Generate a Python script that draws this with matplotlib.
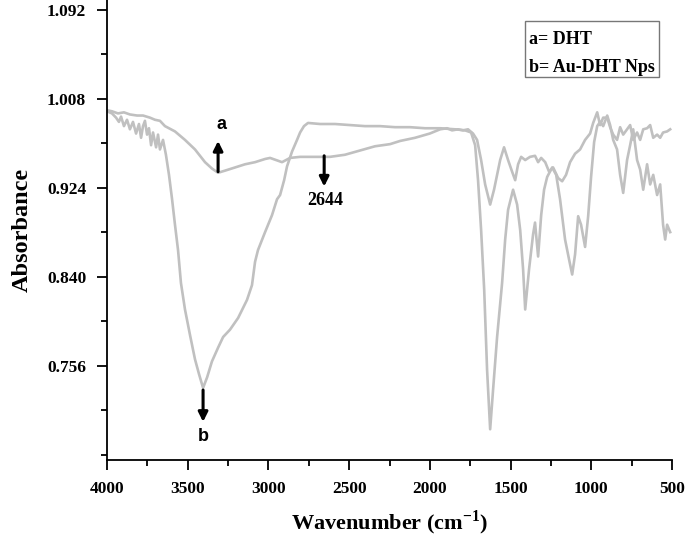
import matplotlib
matplotlib.use("Agg")
import matplotlib.pyplot as plt
from matplotlib.patches import Rectangle
from matplotlib.ticker import MultipleLocator, FixedLocator, FormatStrFormatter

plt.rcParams["mathtext.fontset"] = "custom"
plt.rcParams["mathtext.rm"] = "Liberation Serif:bold"
plt.rcParams["mathtext.bf"] = "Liberation Serif:bold"

# FTIR spectra (wavenumber cm-1, absorbance)
wn_a = [4000, 3969, 3932, 3895, 3858, 3814, 3777, 3734, 3703, 3672, 3641, 3579,
        3517, 3455, 3393, 3350, 3312, 3269, 3207, 3145, 3083, 3021, 2990, 2953,
        2916, 2866, 2804, 2711, 2619, 2526, 2433, 2340, 2247, 2185, 2092, 2001,
        1937, 1894, 1863, 1826, 1795, 1764, 1733, 1708, 1683, 1658, 1627, 1603,
        1565, 1541, 1516, 1491, 1472, 1454, 1435, 1410, 1380, 1349, 1330, 1311,
        1286, 1262, 1237, 1206, 1181, 1157, 1132, 1101, 1070, 1039, 1008, 989,
        964, 946, 927, 902, 884, 865, 841, 822, 803, 779, 760, 741, 717, 698,
        679, 655, 636, 617, 593, 574, 556, 531, 512]
abs_a = [0.997, 0.996, 0.994, 0.995, 0.993, 0.992, 0.992, 0.990, 0.988, 0.987,
         0.982, 0.977, 0.969, 0.960, 0.948, 0.942, 0.938, 0.940, 0.943, 0.946,
         0.948, 0.951, 0.952, 0.950, 0.948, 0.952, 0.953, 0.953, 0.953, 0.955,
         0.959, 0.963, 0.965, 0.968, 0.971, 0.975, 0.979, 0.980, 0.978, 0.979,
         0.978, 0.979, 0.975, 0.969, 0.950, 0.927, 0.908, 0.922, 0.950, 0.962,
         0.950, 0.939, 0.931, 0.946, 0.953, 0.950, 0.953, 0.954, 0.948, 0.952,
         0.948, 0.939, 0.943, 0.933, 0.930, 0.936, 0.948, 0.956, 0.960, 0.969,
         0.975, 0.985, 0.995, 0.983, 0.990, 0.990, 0.981, 0.974, 0.969, 0.981,
         0.974, 0.979, 0.983, 0.969, 0.976, 0.969, 0.979, 0.980, 0.983, 0.971,
         0.974, 0.971, 0.976, 0.977, 0.979]

wn_b = [4000, 3969, 3944, 3926, 3913, 3895, 3876, 3858, 3839, 3820, 3802, 3789,
        3777, 3765, 3752, 3740, 3727, 3715, 3696, 3684, 3672, 3653, 3635, 3616,
        3597, 3579, 3560, 3542, 3517, 3486, 3455, 3430, 3405, 3380, 3350, 3312,
        3281, 3238, 3188, 3133, 3102, 3083, 3065, 3021, 2978, 2947, 2928, 2903,
        2885, 2854, 2823, 2804, 2780, 2755, 2680, 2588, 2495, 2402, 2309, 2216,
        2123, 2030, 1937, 1844, 1782, 1745, 1720, 1702, 1683, 1664, 1646, 1627,
        1609, 1584, 1553, 1534, 1516, 1485, 1460, 1441, 1423, 1410, 1386, 1361,
        1349, 1330, 1311, 1293, 1274, 1243, 1218, 1194, 1163, 1138, 1119, 1101,
        1082, 1064, 1039, 1020, 1002, 983, 964, 946, 927, 902, 884, 865, 841,
        822, 803, 779, 760, 741, 717, 698, 679, 655, 636, 617, 593, 574, 556,
        543, 531, 512]
abs_b = [0.996, 0.994, 0.990, 0.986, 0.991, 0.982, 0.988, 0.979, 0.986, 0.975,
         0.984, 0.971, 0.982, 0.987, 0.974, 0.980, 0.964, 0.976, 0.962, 0.974,
         0.960, 0.969, 0.955, 0.936, 0.913, 0.889, 0.865, 0.834, 0.809, 0.785,
         0.762, 0.748, 0.735, 0.745, 0.760, 0.773, 0.783, 0.790, 0.801, 0.818,
         0.832, 0.854, 0.865, 0.882, 0.898, 0.913, 0.917, 0.931, 0.944, 0.958,
         0.969, 0.976, 0.982, 0.985, 0.984, 0.984, 0.983, 0.982, 0.982, 0.981,
         0.981, 0.980, 0.980, 0.979, 0.978, 0.976, 0.964, 0.931, 0.884, 0.828,
         0.752, 0.696, 0.733, 0.783, 0.834, 0.875, 0.903, 0.922, 0.908, 0.884,
         0.847, 0.809, 0.847, 0.880, 0.891, 0.859, 0.898, 0.922, 0.934, 0.943,
         0.936, 0.913, 0.875, 0.856, 0.842, 0.861, 0.897, 0.889, 0.868, 0.897,
         0.934, 0.967, 0.982, 0.986, 0.982, 0.992, 0.983, 0.969, 0.960, 0.936,
         0.919, 0.950, 0.964, 0.979, 0.950, 0.941, 0.922, 0.946, 0.927, 0.936,
         0.917, 0.927, 0.889, 0.875, 0.889, 0.882]

y_ticks = [0.756, 0.840, 0.924, 1.008, 1.092]
x_ticks = [4000, 3500, 3000, 2500, 2000, 1500, 1000, 500]
legend_lines = ["a= DHT", "b= Au-DHT Nps"]

serif = ["Liberation Serif", "DejaVu Serif"]
sans = ["Liberation Sans", "DejaVu Sans"]
line_col = "#c0c0c0"

fig = plt.figure(figsize=(6.85, 5.38), dpi=100)
ax = fig.add_axes([0.1562, 0.145, 0.825, 0.855])

ax.plot(wn_a, abs_a, color=line_col, lw=1.9)
ax.plot(wn_b, abs_b, color=line_col, lw=1.9)

ax.set_xlim(4000, 500)
ax.set_ylim(0.667, 1.101)

for side in ["top", "right"]:
    ax.spines[side].set_visible(False)
for side in ["left", "bottom"]:
    ax.spines[side].set_linewidth(1.3)

ax.xaxis.set_major_locator(FixedLocator(x_ticks))
ax.xaxis.set_minor_locator(MultipleLocator(250))
ax.yaxis.set_major_locator(FixedLocator(y_ticks))
ax.yaxis.set_minor_locator(MultipleLocator(0.042))
ax.yaxis.set_major_formatter(FormatStrFormatter("%.3f"))
ax.tick_params(which="major", direction="out", length=7, width=1.3, pad=8)
ax.tick_params(which="minor", direction="out", length=4.5, width=1.3)
for lbl in ax.get_xticklabels() + ax.get_yticklabels():
    lbl.set_family(serif)
    lbl.set_fontweight("bold")
    lbl.set_fontsize(12.5)

ax.set_xlabel("Wavenumber (cm$^{\\mathbf{-1}}$)", family=serif,
              fontweight="bold", fontsize=16, labelpad=8)
ax.set_ylabel("Absorbance", family=serif, fontweight="bold", fontsize=17.5,
              labelpad=10)

# arrows + labels
arrow = dict(arrowstyle="-|>", color="black", lw=2.2, mutation_scale=14,
             shrinkA=0, shrinkB=0)
ax.annotate("", xy=(3312, 0.968), xytext=(3312, 0.939), arrowprops=arrow)
ax.text(3290, 0.984, "a", family=sans, fontweight="bold", fontsize=13,
        ha="center", va="center")
ax.annotate("", xy=(2655, 0.925), xytext=(2655, 0.954), arrowprops=arrow)
ax.text(2650, 0.912, "2644", family=serif, fontweight="bold", fontsize=13,
        ha="center", va="center")
ax.annotate("", xy=(3405, 0.703), xytext=(3405, 0.733), arrowprops=arrow)
ax.text(3405, 0.689, "b", family=sans, fontweight="bold", fontsize=13,
        ha="center", va="center")

# legend box
ax.add_patch(Rectangle((0.740, 0.833), 0.237, 0.121, transform=ax.transAxes,
                       fill=False, edgecolor="#777777", lw=1.0))
ax.text(0.747, 0.915, legend_lines[0], transform=ax.transAxes, family=serif,
        fontweight="bold", fontsize=13, va="center")
ax.text(0.747, 0.854, legend_lines[1], transform=ax.transAxes, family=serif,
        fontweight="bold", fontsize=13, va="center")

fig.savefig("out.png", dpi=100)
